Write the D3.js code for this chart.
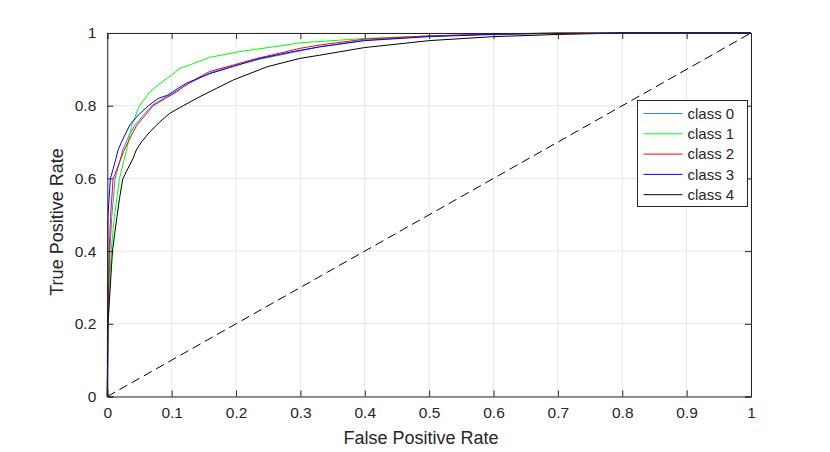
<!DOCTYPE html>
<html>
<head>
<meta charset="utf-8">
<script src="https://cdn.jsdelivr.net/npm/d3@7"></script>
<style>
  body { margin: 0; background: #fff; }
  text { font-family: "Liberation Sans", Arial, sans-serif; fill: #262626; }
</style>
</head>
<body>
<div id="chart"></div>
<script>
  // ROC points [fpr, tpr]
  const class0 = [[0,0],[0.001,0.2],[0.004,0.4],[0.007,0.495],[0.012,0.598],[0.024,0.678],[0.033,0.715],[0.043,0.747],[0.056,0.774],[0.069,0.80],[0.087,0.82],[0.105,0.838],[0.12,0.855],[0.14,0.873],[0.159,0.89],[0.196,0.91],[0.237,0.928],[0.289,0.947],[0.33,0.962],[0.40,0.98],[0.50,0.991],[0.60,0.997],[0.70,1],[1,1]];
  const class1 = [[0,0],[0.0015,0.2],[0.006,0.4],[0.011,0.495],[0.019,0.6],[0.030,0.678],[0.038,0.747],[0.050,0.80],[0.066,0.838],[0.079,0.857],[0.100,0.885],[0.113,0.903],[0.128,0.912],[0.159,0.933],[0.206,0.949],[0.258,0.962],[0.30,0.973],[0.40,0.985],[0.50,0.992],[0.60,0.997],[0.70,1],[1,1]];
  const class2 = [[0,0],[0.0008,0.2],[0.003,0.4],[0.005,0.495],[0.009,0.598],[0.025,0.673],[0.035,0.71],[0.046,0.747],[0.059,0.774],[0.071,0.80],[0.09,0.82],[0.108,0.838],[0.118,0.852],[0.139,0.875],[0.159,0.894],[0.196,0.912],[0.232,0.93],[0.279,0.949],[0.30,0.958],[0.33,0.967],[0.40,0.983],[0.50,0.992],[0.60,0.997],[0.70,1],[1,1]];
  const class3 = [[0,0],[0.0003,0.2],[0.0008,0.4],[0.001,0.495],[0.0047,0.598],[0.0135,0.655],[0.0167,0.678],[0.022,0.70],[0.035,0.747],[0.048,0.774],[0.064,0.80],[0.079,0.82],[0.094,0.829],[0.11,0.848],[0.123,0.862],[0.144,0.877],[0.159,0.888],[0.196,0.908],[0.237,0.93],[0.289,0.949],[0.33,0.962],[0.40,0.979],[0.50,0.99],[0.60,0.996],[0.70,0.999],[0.80,1],[1,1]];
  const class4 = [[0,0],[0.001,0.2],[0.008,0.4],[0.015,0.495],[0.019,0.545],[0.024,0.598],[0.03,0.62],[0.04,0.655],[0.045,0.678],[0.053,0.70],[0.066,0.728],[0.082,0.756],[0.097,0.779],[0.118,0.80],[0.144,0.825],[0.17,0.848],[0.196,0.871],[0.248,0.907],[0.299,0.930],[0.33,0.939],[0.40,0.96],[0.50,0.979],[0.60,0.99],[0.70,0.996],[0.80,1],[1,1]];
  const chance = [[0,0],[1,1]];

  const names = ['class 0','class 1','class 2','class 3','class 4'];
  const colors = ['#2b8fd8','#00ff00','#ff0000','#0000ff','#000000'];
  const xTicks = [0,0.1,0.2,0.3,0.4,0.5,0.6,0.7,0.8,0.9,1];
  const yTicks = [0,0.2,0.4,0.6,0.8,1];

  const width = 830, height = 452;
  const margin = { top: 33, right: 79, bottom: 55.5, left: 107.3 };

  const svg = d3.select('#chart').append('svg')
    .attr('width', width)
    .attr('height', height);

  const x = d3.scaleLinear().domain([0, 1]).range([margin.left, width - margin.right]);
  const y = d3.scaleLinear().domain([0, 1]).range([height - margin.bottom, margin.top]);

  // grid
  svg.append('g').selectAll('line.gx')
    .data(xTicks).join('line')
    .attr('x1', d => x(d)).attr('x2', d => x(d))
    .attr('y1', y(0)).attr('y2', y(1))
    .attr('stroke', '#e6e6e6');
  svg.append('g').selectAll('line.gy')
    .data(yTicks).join('line')
    .attr('y1', d => y(d)).attr('y2', d => y(d))
    .attr('x1', x(0)).attr('x2', x(1))
    .attr('stroke', '#e6e6e6');

  // curves
  const line = d3.line().x(d => x(d[0])).y(d => y(d[1]));
  const series = [class0, class1, class2, class3, class4];
  series.forEach((s, i) => {
    svg.append('path')
      .datum(s)
      .attr('d', line)
      .attr('fill', 'none')
      .attr('stroke', colors[i])
      .attr('stroke-width', 1);
  });

  svg.append('path')
    .datum(chance)
    .attr('d', line)
    .attr('fill', 'none')
    .attr('stroke', '#000')
    .attr('stroke-dasharray', '9,5')
    .attr('stroke-width', 1);

  // axes box with inward ticks
  const tickLen = 6;
  const xAxis = d3.axisBottom(x).tickValues(xTicks).tickSize(-tickLen).tickPadding(10).tickFormat(d3.format('~g'));
  const yAxis = d3.axisLeft(y).tickValues(yTicks).tickSize(-tickLen).tickPadding(11).tickFormat(d3.format('~g'));

  const gx = svg.append('g').attr('transform', `translate(0,${y(0)})`).call(xAxis);
  const gy = svg.append('g').attr('transform', `translate(${x(0)},0)`).call(yAxis);
  svg.append('g').attr('transform', `translate(0,${y(1)})`)
    .call(d3.axisTop(x).tickValues(xTicks).tickSize(-tickLen).tickFormat(''));
  svg.append('g').attr('transform', `translate(${x(1)},0)`)
    .call(d3.axisRight(y).tickValues(yTicks).tickSize(-tickLen).tickFormat(''));

  svg.selectAll('.domain, .tick line').attr('stroke', '#262626');
  svg.selectAll('.tick text')
    .attr('font-size', 15.5)
    .attr('fill', '#262626')
    .style('font-family', '"Liberation Sans", Arial, sans-serif');

  svg.append('text')
    .attr('x', 421).attr('y', 444)
    .attr('text-anchor', 'middle')
    .attr('font-size', 18)
    .text('False Positive Rate');

  svg.append('text')
    .attr('transform', `translate(63,222) rotate(-90)`)
    .attr('text-anchor', 'middle')
    .attr('font-size', 18)
    .text('True Positive Rate');

  // legend
  const lg = svg.append('g').attr('transform', 'translate(637.5,100.5)');
  lg.append('rect')
    .attr('width', 110).attr('height', 106)
    .attr('fill', '#fff').attr('stroke', '#262626');
  names.forEach((n, i) => {
    const row = lg.append('g').attr('transform', `translate(0,${13 + i * 20.3})`);
    row.append('line')
      .attr('x1', 6).attr('x2', 45)
      .attr('stroke', colors[i]);
    row.append('text')
      .attr('x', 50).attr('dy', '0.35em')
      .attr('font-size', 15)
      .text(n);
  });
</script>
</body>
</html>
